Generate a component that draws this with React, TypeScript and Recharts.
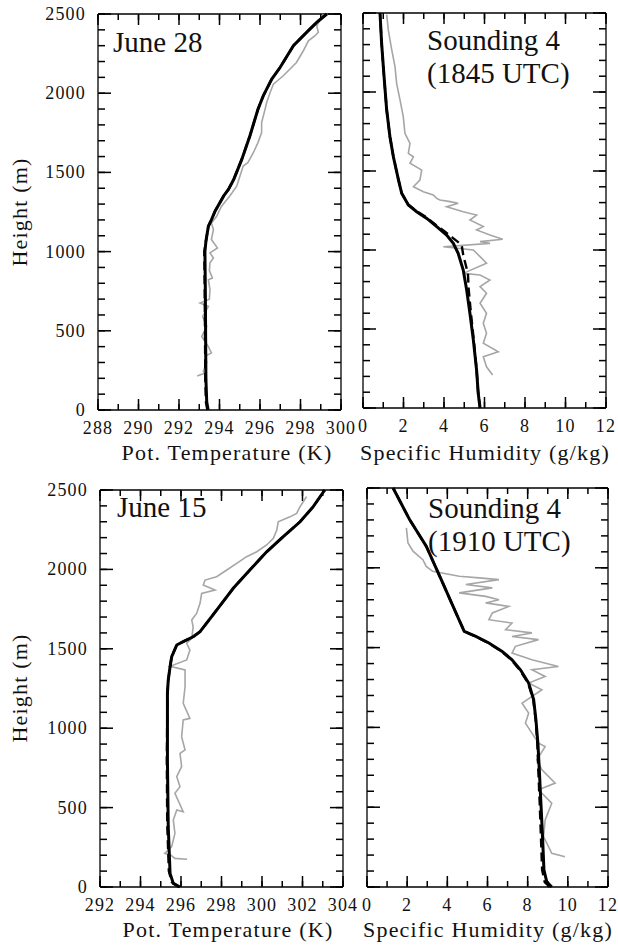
import React from 'react';
import { ScatterChart, Scatter, XAxis, YAxis } from 'recharts';

const FONT = '"Liberation Serif", "Times New Roman", Times, serif';
const INK = '#000';

type Pair = [number, number]; // [value, height m]

// ---- axis ticks ----
const heightTicks = [0, 100, 200, 300, 400, 500, 600, 700, 800, 900, 1000, 1100, 1200, 1300, 1400, 1500, 1600, 1700, 1800, 1900, 2000, 2100, 2200, 2300, 2400, 2500];
const heightLabels = [0, 500, 1000, 1500, 2000, 2500];
const thetaTicksJun28 = [288, 289, 290, 291, 292, 293, 294, 295, 296, 297, 298, 299, 300];
const thetaLabelsJun28 = [288, 290, 292, 294, 296, 298, 300];
const thetaTicksJun15 = [292, 293, 294, 295, 296, 297, 298, 299, 300, 301, 302, 303, 304];
const thetaLabelsJun15 = [292, 294, 296, 298, 300, 302, 304];
const humidityTicks = [0, 1, 2, 3, 4, 5, 6, 7, 8, 9, 10, 11, 12];
const humidityLabels = [0, 2, 4, 6, 8, 10, 12];

// ---- June 28, potential temperature (K) ----
const jun28ThetaObs: Pair[] = [
  [292.9, 215], [293.25, 232], [293.2, 245], [293.37, 300], [293.3, 340], [293.6, 360], [293.45, 400],
  [293.12, 464], [293.37, 527], [293.17, 590], [293.45, 654], [293.04, 675], [293.5, 700], [293.53, 760],
  [293.45, 823], [293.65, 833], [293.5, 880], [293.53, 930], [293.7, 960], [293.53, 992], [293.9, 1023],
  [293.6, 1076], [293.7, 1139], [293.6, 1181], [293.86, 1223], [294.1, 1287], [294.5, 1350], [294.85, 1413],
  [295.17, 1540], [295.4, 1561], [295.67, 1624], [295.9, 1688], [296.08, 1751], [296.08, 1814], [296.25, 1899],
  [296.33, 1941], [296.5, 2004], [296.66, 2057], [297.15, 2110], [297.8, 2194], [298.14, 2268], [298.39, 2331],
  [298.72, 2363], [298.88, 2384], [298.8, 2426], [299.05, 2479], [299.13, 2500],
];
const jun28ThetaModel: Pair[] = [
  [293.44, 0], [293.37, 50], [293.33, 190], [293.3, 760], [293.28, 1000], [293.33, 1065], [293.45, 1160],
  [293.6, 1200], [293.78, 1255], [294.2, 1350], [294.44, 1392], [294.7, 1455], [295.1, 1582], [295.5, 1730],
  [295.9, 1899], [296.16, 1983], [296.58, 2089], [296.99, 2162], [297.65, 2300], [298.3, 2384], [298.8, 2447],
  [299.3, 2500],
];
const jun28ThetaAlt: Pair[] = [
  [293.4, 0], [293.33, 50], [293.3, 190], [293.27, 760], [293.25, 1000], [293.33, 1065], [293.45, 1160],
  [293.6, 1200], [293.78, 1255], [294.2, 1350], [294.44, 1392], [294.7, 1455], [295.1, 1582], [295.5, 1730],
  [295.9, 1899], [296.16, 1983], [296.58, 2089], [296.99, 2162], [297.65, 2300], [298.3, 2384], [298.8, 2447],
  [299.3, 2500],
];

// ---- June 28, specific humidity (g/kg) ----
const jun28QObs: Pair[] = [
  [1.17, 2490], [1.25, 2392], [1.42, 2266], [1.58, 2160], [1.66, 2055], [1.83, 1949], [1.99, 1843], [2.07, 1739],
  [2.32, 1675], [2.24, 1612], [2.49, 1590], [2.32, 1549], [2.9, 1506], [2.81, 1443], [2.49, 1400], [2.98, 1369],
  [3.47, 1348], [3.64, 1327], [3.8, 1316], [4.3, 1306], [4.7, 1296], [4.13, 1274], [4.95, 1242], [5.61, 1221],
  [5.28, 1190], [5.94, 1148], [5.61, 1127], [6.27, 1095], [6.9, 1068], [5.78, 1053], [6.27, 1042], [3.97, 1021],
  [5.45, 1000], [5.78, 958], [6.1, 916], [4.95, 852], [5.78, 842], [6.27, 810], [5.78, 768], [6.1, 726],
  [5.78, 663], [6.1, 599], [5.94, 536], [6.1, 473], [5.94, 410], [6.68, 356], [5.94, 325], [6.1, 261], [6.4, 209],
];
const jun28QModel: Pair[] = [
  [5.78, 0], [5.69, 93], [5.61, 240], [5.45, 430], [5.28, 600], [5.12, 747], [4.95, 873], [4.7, 979],
  [4.46, 1042], [4.13, 1095], [3.64, 1148], [3.15, 1200], [2.65, 1242], [2.24, 1285], [1.91, 1359],
  [1.74, 1450], [1.5, 1590], [1.33, 1717], [1.17, 1886], [1.04, 2097], [0.92, 2308], [0.84, 2500],
];
const jun28QAlt: Pair[] = [
  [5.78, 0], [5.69, 93], [5.61, 240], [5.47, 430], [5.33, 600], [5.22, 750], [5.18, 852], [4.95, 968],
  [4.87, 1032], [4.4, 1080], [4.05, 1116], [3.6, 1158], [3.15, 1205], [2.65, 1245], [2.24, 1287], [1.91, 1359],
  [1.74, 1450], [1.5, 1590], [1.33, 1717], [1.17, 1886], [1.04, 2097], [0.92, 2308], [0.84, 2500],
];

// ---- June 15, potential temperature (K) ----
const jun15ThetaObs: Pair[] = [
  [296.3, 175], [295.7, 180], [295.5, 200], [295.2, 212], [295.54, 254], [295.7, 338], [295.62, 422],
  [295.79, 485], [296.11, 474], [295.7, 590], [295.95, 632], [295.79, 695], [296.03, 758], [295.95, 842],
  [296.2, 863], [296.03, 946], [296.11, 1052], [296.44, 1062], [296.11, 1157], [296.2, 1261], [296.2, 1367],
  [295.46, 1390], [296.28, 1430], [296.44, 1492], [296.28, 1535], [296.53, 1566], [296.6, 1639], [296.53, 1681],
  [296.77, 1723], [296.94, 1786], [297.02, 1849], [297.68, 1870], [297.1, 1902], [297.19, 1933], [297.76, 1954],
  [298.26, 1996], [298.75, 2038], [299.24, 2080], [299.74, 2111], [300.23, 2154], [300.56, 2196], [300.73, 2248],
  [300.8, 2300], [301.38, 2331], [301.71, 2353], [301.88, 2395], [302.04, 2426], [302.2, 2458],
];
const jun15ThetaModel: Pair[] = [
  [295.95, 0], [295.62, 23], [295.46, 86], [295.37, 380], [295.33, 800], [295.33, 1220], [295.37, 1303],
  [295.46, 1387], [295.54, 1450], [295.79, 1524], [296.11, 1545], [296.6, 1576], [296.94, 1608], [297.76, 1744],
  [298.58, 1881], [299.4, 1996], [300.23, 2111], [301.05, 2206], [301.88, 2300], [302.53, 2395], [303.1, 2500],
];
const jun15ThetaAlt: Pair[] = [
  [295.9, 0], [295.55, 30], [295.4, 100], [295.32, 400], [295.3, 800], [295.33, 1220], [295.37, 1303],
  [295.46, 1387], [295.54, 1450], [295.79, 1524], [296.11, 1545], [296.6, 1576], [296.94, 1608], [297.76, 1744],
  [298.58, 1881], [299.4, 1996], [300.23, 2111], [301.05, 2206], [301.88, 2300], [302.53, 2395], [303.1, 2500],
];

// ---- June 15, specific humidity (g/kg) ----
const jun15QObs: Pair[] = [
  [1.96, 2250], [2.04, 2156], [2.29, 2104], [2.78, 2051], [2.95, 2009], [3.27, 1978], [4.59, 1947], [5.58, 1937],
  [6.57, 1926], [4.92, 1895], [6.24, 1874], [4.59, 1843], [5.91, 1821], [6.57, 1800], [5.91, 1780], [7.06, 1758],
  [6.24, 1717], [6.07, 1675], [7.22, 1654], [6.9, 1612], [8.21, 1592], [7.22, 1570], [8.54, 1550], [7.39, 1508],
  [7.22, 1466], [8.21, 1424], [9.53, 1382], [8.21, 1361], [8.87, 1319], [8.05, 1278], [8.71, 1236], [7.72, 1152],
  [8.05, 1090], [7.89, 1027], [8.21, 964], [8.54, 901], [8.87, 880], [8.46, 797], [8.71, 734], [9.37, 651],
  [8.54, 609], [9.2, 525], [8.87, 420], [8.79, 316], [9.2, 211], [9.86, 190],
];
const jun15QModel: Pair[] = [
  [9.2, 0], [8.95, 33], [8.81, 107], [8.74, 316], [8.66, 525], [8.58, 734], [8.51, 901], [8.41, 1048],
  [8.3, 1173], [8.05, 1278], [7.64, 1361], [7.22, 1424], [6.73, 1476], [6.07, 1529], [5.42, 1570], [4.84, 1602],
  [4.43, 1717], [3.77, 1905], [2.95, 2135], [2.12, 2302], [1.3, 2500],
];
const jun15QAlt: Pair[] = [
  [9.1, 0], [8.85, 30], [8.72, 107], [8.66, 316], [8.6, 525], [8.53, 734], [8.48, 901], [8.4, 1048],
  [8.28, 1173], [8.02, 1278], [7.6, 1361], [7.18, 1424], [6.7, 1476], [6.05, 1529], [5.4, 1570], [4.84, 1602],
  [4.43, 1717], [3.77, 1905], [2.95, 2135], [2.12, 2302], [1.3, 2500],
];

const toPts = (pairs: Pair[]) => pairs.map(([x, y]) => ({ x, y }));
const Empty = () => <g />;
const AXIS = { stroke: INK, strokeWidth: 1.3 };
const TICK = { stroke: INK, strokeWidth: 1.5 };
const tickText = { fontFamily: FONT, fontSize: 18, fill: '#111', letterSpacing: 1.2 };

const XLabel = ({ x, y, payload }: any) => (
  <text x={x} y={y + 24} textAnchor="middle" style={tickText}>{payload.value}</text>
);
const YLabel = ({ x, y, payload }: any) => (
  <text x={x - 12} y={y + 6} textAnchor="end" style={tickText}>{payload.value}</text>
);

interface PanelProps {
  box: { x: number; y: number; w: number; h: number };
  xDomain: [number, number];
  xTicks: number[];
  xLabels: number[];
  showHeights: boolean;
  obs: Pair[];
  model: Pair[];
  alt: Pair[];
}

const Y_DOMAIN: [number, number] = [0, 2500];

// Inward ticks come from mirrored axes (1px bands that take no room from the plot);
// the axes the curves use carry every tick, extra mirrored axes lengthen the major ones.
// Labels sit on separate non-mirrored axes. Every axis is bound to a scatter so its ticks exist.
function Panel({ box, xDomain, xTicks, xLabels, showHeights, obs, model, alt }: PanelProps) {
  const m = { top: 14, right: 25, bottom: 36, left: showHeights ? 62 : 25 };
  const margin = { top: m.top, right: m.right, bottom: m.bottom - 1, left: showHeights ? m.left - 1 : m.left };
  const base = { type: 'number' as const, interval: 0 as const };
  const xm = { ...base, dataKey: 'x', domain: xDomain, mirror: true, height: 1, tickLine: TICK, tick: Empty };
  const ym = { ...base, dataKey: 'y', domain: Y_DOMAIN, mirror: true, width: 1, tickLine: TICK, tick: Empty };
  const pts = toPts(obs);
  return (
    <div style={{ position: 'absolute', left: box.x - m.left, top: box.y - m.top }}>
      <ScatterChart width={box.w + m.left + m.right} height={box.h + m.top + m.bottom} margin={margin}>
        <XAxis {...xm} xAxisId="b" orientation="bottom" ticks={xTicks} tickSize={6} axisLine={AXIS} />
        <XAxis {...xm} xAxisId="bM" orientation="bottom" ticks={xLabels} tickSize={10} axisLine={false} />
        <XAxis {...base} xAxisId="bl" orientation="bottom" dataKey="x" domain={xDomain} ticks={xLabels}
          height={1} tickSize={0} tickMargin={0} tickLine={false} axisLine={false} tick={XLabel} />
        <XAxis {...xm} xAxisId="t" orientation="top" ticks={xTicks} tickSize={6} axisLine={AXIS} />
        <XAxis {...xm} xAxisId="tM" orientation="top" ticks={xLabels} tickSize={10} axisLine={false} />
        <YAxis {...ym} yAxisId="l" orientation="left" ticks={heightTicks} tickSize={7} axisLine={AXIS} />
        <YAxis {...ym} yAxisId="lM" orientation="left" ticks={heightLabels} tickSize={12} axisLine={false} />
        {showHeights && (
          <YAxis {...base} yAxisId="ll" orientation="left" dataKey="y" domain={Y_DOMAIN} ticks={heightLabels}
            width={1} tickSize={0} tickMargin={0} tickLine={false} axisLine={false} tick={YLabel} />
        )}
        <YAxis {...ym} yAxisId="r" orientation="right" ticks={heightTicks} tickSize={7} axisLine={AXIS} />
        <YAxis {...ym} yAxisId="rM" orientation="right" ticks={heightLabels} tickSize={12} axisLine={false} />

        {/* hidden bindings for the frame axes */}
        <Scatter xAxisId="bM" yAxisId="lM" data={pts} shape={Empty} isAnimationActive={false} />
        <Scatter xAxisId="bl" yAxisId={showHeights ? 'll' : 'l'} data={pts} shape={Empty} isAnimationActive={false} />
        <Scatter xAxisId="t" yAxisId="r" data={pts} shape={Empty} isAnimationActive={false} />
        <Scatter xAxisId="tM" yAxisId="rM" data={pts} shape={Empty} isAnimationActive={false} />

        <Scatter xAxisId="b" yAxisId="l" data={pts} fill="#a6a6a6" shape={Empty}
          line={{ stroke: '#a6a6a6', strokeWidth: 1.6 }} lineType="joint" isAnimationActive={false} />
        <Scatter xAxisId="b" yAxisId="l" data={toPts(alt)} fill="#000" shape={Empty}
          line={{ stroke: '#000', strokeWidth: 2.4, strokeDasharray: '9 5' }} lineType="joint" isAnimationActive={false} />
        <Scatter xAxisId="b" yAxisId="l" data={toPts(model)} fill="#000" shape={Empty}
          line={{ stroke: '#000', strokeWidth: 3 }} lineType="joint" isAnimationActive={false} />
      </ScatterChart>
    </div>
  );
}

const titleStyle = { fontFamily: FONT, fontSize: 22, fill: '#111', letterSpacing: 1.2 };
const noteStyle = { fontFamily: FONT, fontSize: 29, fill: '#111' };

export default function App() {
  return (
    <div style={{ position: 'absolute', left: 0, top: 0, width: 618, height: 945, background: '#fff' }}>
      <Panel box={{ x: 98, y: 14, w: 243, h: 396 }} xDomain={[288, 300]} xTicks={thetaTicksJun28}
        xLabels={thetaLabelsJun28} showHeights obs={jun28ThetaObs} model={jun28ThetaModel} alt={jun28ThetaAlt} />
      <Panel box={{ x: 363, y: 13, w: 243, h: 395 }} xDomain={[0, 12]} xTicks={humidityTicks}
        xLabels={humidityLabels} showHeights={false} obs={jun28QObs} model={jun28QModel} alt={jun28QAlt} />
      <Panel box={{ x: 100, y: 490, w: 243, h: 397 }} xDomain={[292, 304]} xTicks={thetaTicksJun15}
        xLabels={thetaLabelsJun15} showHeights obs={jun15ThetaObs} model={jun15ThetaModel} alt={jun15ThetaAlt} />
      <Panel box={{ x: 367, y: 488, w: 241, h: 399 }} xDomain={[0, 12]} xTicks={humidityTicks}
        xLabels={humidityLabels} showHeights={false} obs={jun15QObs} model={jun15QModel} alt={jun15QAlt} />
      <svg width={618} height={945} style={{ position: 'absolute', left: 0, top: 0, pointerEvents: 'none' }}>
        <text transform="translate(27,212) rotate(-90)" textAnchor="middle" style={titleStyle}>Height (m)</text>
        <text transform="translate(27,688) rotate(-90)" textAnchor="middle" style={titleStyle}>Height (m)</text>
        <text x={227} y={460} textAnchor="middle" style={titleStyle}>Pot. Temperature (K)</text>
        <text x={485} y={460} textAnchor="middle" style={titleStyle}>Specific Humidity (g/kg)</text>
        <text x={228} y={937} textAnchor="middle" style={titleStyle}>Pot. Temperature (K)</text>
        <text x={488} y={937} textAnchor="middle" style={titleStyle}>Specific Humidity (g/kg)</text>
        <text x={113} y={52} style={noteStyle}>June 28</text>
        <text x={427} y={50} style={noteStyle}>Sounding 4</text>
        <text x={427} y={83} style={noteStyle}>(1845 UTC)</text>
        <text x={117} y={517} style={noteStyle}>June 15</text>
        <text x={428} y={518} style={noteStyle}>Sounding 4</text>
        <text x={428} y={551} style={noteStyle}>(1910 UTC)</text>
      </svg>
    </div>
  );
}
